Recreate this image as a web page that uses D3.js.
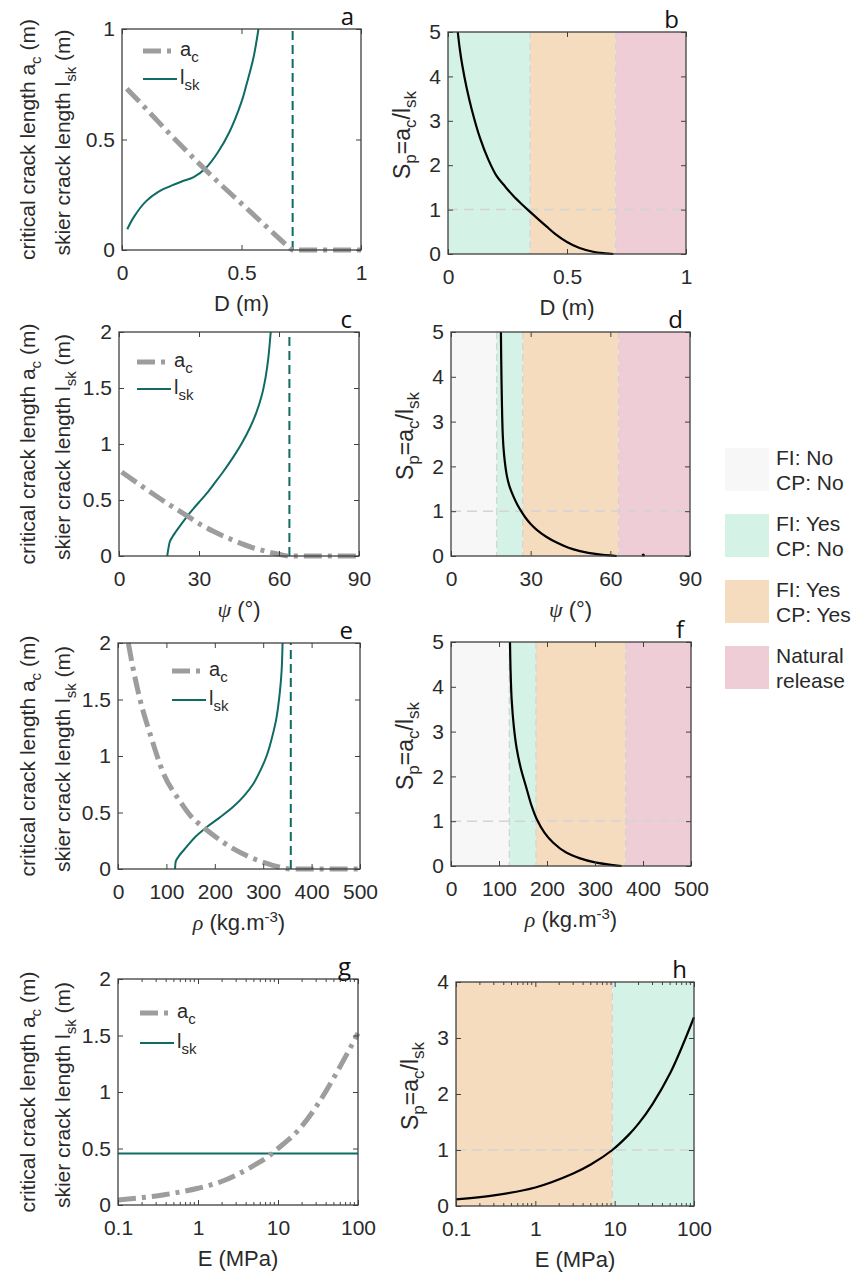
<!DOCTYPE html>
<html><head><meta charset="utf-8">
<script src="https://cdn.jsdelivr.net/npm/d3@7"></script>
<style>body{margin:0;background:#fff} svg{display:block}</style>
</head><body>
<svg id="chart" width="857" height="1273"></svg>
<script>
// ================= DATA =================
// stability regime categories (legend)
const regionLine1 = ["FI: No", "FI: Yes", "FI: Yes", "Natural"];
const regionLine2 = ["CP: No", "CP: No", "CP: Yes", "release"];
const regionColors = ["#f7f7f7", "#d5f2e6", "#f6dcbe", "#eecdd6"];

// panel a : slab thickness D (m)
const a_acD  = [0.02, 0.1, 0.2, 0.3, 0.4, 0.5, 0.6, 0.7, 0.714, 0.8, 0.9, 1.0];
const a_acV  = [0.73, 0.64, 0.525, 0.415, 0.31, 0.21, 0.11, 0.012, 0, 0, 0, 0];
const a_lskD = [0.022, 0.05, 0.1, 0.15, 0.2, 0.25, 0.3, 0.35, 0.4, 0.45, 0.5, 0.52, 0.55, 0.571];
const a_lskV = [0.094, 0.15, 0.22, 0.262, 0.288, 0.31, 0.33, 0.37, 0.44, 0.535, 0.67, 0.745, 0.87, 1.0];
const a_asym = 0.714;
// panel b
const b_D  = [0.041, 0.05, 0.06, 0.078, 0.1, 0.134, 0.17, 0.204, 0.24, 0.274, 0.31, 0.345, 0.38, 0.415, 0.45, 0.5, 0.55, 0.61, 0.66, 0.695];
const b_Sp = [5, 4.6, 4.25, 3.75, 3.25, 2.62, 2.12, 1.76, 1.52, 1.31, 1.12, 0.95, 0.78, 0.615, 0.455, 0.27, 0.14, 0.05, 0.015, 0];
const b_bounds = [0, 0.345, 0.705, 1];
const b_cls = [1, 2, 3];

// panel c : slope angle psi (deg)
const c_acA  = [1, 10, 20, 25.4, 30, 35, 42.9, 50, 55.4, 60, 63.9, 70, 80, 90];
const c_acV  = [0.75, 0.6, 0.44, 0.36, 0.29, 0.225, 0.14, 0.075, 0.04, 0.015, 0, 0, 0, 0];
const c_lskA = [18.1, 18.4, 18.7, 19.1, 20, 22, 25.4, 28, 30, 32.9, 36, 39, 42.9, 46, 49.1, 51.5, 53.5, 55, 56, 56.9];
const c_lskV = [0, 0.05, 0.09, 0.13, 0.17, 0.24, 0.35, 0.425, 0.48, 0.56, 0.655, 0.75, 0.885, 1.005, 1.145, 1.28, 1.43, 1.6, 1.77, 2.0];
const c_asym = 63.9;
// panel d
const d_A  = [18.8, 19.0, 19.5, 20, 21, 22, 23.5, 25, 26.6, 28, 30, 32.3, 36, 39.8, 44, 48.6, 55, 62.4];
const d_Sp = [5, 4.0, 2.69, 2.25, 1.8, 1.56, 1.33, 1.145, 0.985, 0.86, 0.715, 0.585, 0.425, 0.3, 0.19, 0.11, 0.04, 0];
const d_bounds = [0, 17.2, 27, 63.1, 90];
const d_cls = [0, 1, 2, 3];
const d_dotA = [72.4];

// panel e : slab density rho (kg m-3)
const e_acR  = [21.3, 30, 45.5, 66, 93.6, 128, 150, 176, 200, 238, 270, 307, 330, 345, 357, 400, 450, 500];
const e_acV  = [2.0, 1.8, 1.5, 1.2, 0.85, 0.6, 0.47, 0.37, 0.29, 0.18, 0.11, 0.05, 0.02, 0.005, 0, 0, 0, 0];
const e_lskR = [117.8, 118.5, 119.5, 125, 141.6, 160, 183, 210, 238, 260, 279, 295, 307, 318, 327.5, 334, 338, 340];
const e_lskV = [0, 0.04, 0.07, 0.11, 0.195, 0.285, 0.37, 0.455, 0.55, 0.645, 0.75, 0.88, 1.0, 1.16, 1.34, 1.55, 1.75, 2.0];
const e_asym = 357;
// panel f
const f_R  = [122.9, 124, 126.4, 131, 136.9, 145, 157.7, 168, 178.5, 195, 213, 240, 269, 300, 338, 355.6];
const f_Sp = [5, 4.4, 3.71, 3.1, 2.62, 2.2, 1.72, 1.34, 1.05, 0.74, 0.52, 0.3, 0.17, 0.08, 0.02, 0];
const f_bounds = [0, 121.5, 177, 364, 500];
const f_cls = [0, 1, 2, 3];

// panel g : elastic modulus E (MPa)
const g_E    = [0.1, 0.2, 0.3, 0.5, 1, 2, 3, 5, 7.9, 10, 20, 30, 54, 100];
const g_acV  = [0.044, 0.065, 0.08, 0.105, 0.148, 0.21, 0.265, 0.35, 0.44, 0.5, 0.7, 0.87, 1.17, 1.52];
const g_lskE = [0.1, 100];
const g_lskV = [0.455, 0.455];
// panel h
const h_E  = [0.1, 0.3, 1, 3, 5, 9.35, 15, 20, 30, 50, 70, 100];
const h_Sp = [0.12, 0.19, 0.33, 0.58, 0.74, 1.0, 1.27, 1.47, 1.82, 2.37, 2.83, 3.37];
const h_bounds = [0.1, 9.35, 100];
const h_cls = [2, 1];

// tick values
const ticksD = [0, 0.5, 1];
const ticksPsi = [0, 30, 60, 90];
const ticksRho = [0, 100, 200, 300, 400, 500];
const ticksE = [0.1, 1, 10, 100];
const ticksL1 = [0, 0.5, 1];
const ticksL2 = [0, 0.5, 1, 1.5, 2];
const ticksS5 = [0, 1, 2, 3, 4, 5];
const ticksS4 = [0, 1, 2, 3, 4];

// ================= DRAWING =================
const svg = d3.select("#chart");
const FONT = "'Liberation Sans', Arial, Helvetica, sans-serif";
const SERIF = "'Liberation Serif', 'DejaVu Serif', serif";
const AXC = "#404040";
const TXT = "#2a2a2a";
const GRAY = "#9d9d9d";
const TEAL = "#0f6b63";
const DASHDOT = "18,6,4,6";
const fmt = d => String(d);

const zip = (xs, ys) => xs.map((v, i) => [v, ys[i]]);
let clipId = 0;

function axes(g, x, y, box, xt, yt, isLog) {
  const bx = g.append("g").attr("transform", `translate(0,${box.B})`)
    .call(d3.axisBottom(x).tickValues(xt).tickFormat(fmt).tickSizeInner(-5).tickSizeOuter(0).tickPadding(15));
  const tx = g.append("g").attr("transform", `translate(0,${box.T})`)
    .call(d3.axisTop(x).tickValues(xt).tickFormat("").tickSizeInner(-5).tickSizeOuter(0));
  const ly = g.append("g").attr("transform", `translate(${box.L},0)`)
    .call(d3.axisLeft(y).tickValues(yt).tickFormat(fmt).tickSizeInner(-5).tickSizeOuter(0).tickPadding(7));
  const ry = g.append("g").attr("transform", `translate(${box.R},0)`)
    .call(d3.axisRight(y).tickValues(yt).tickFormat("").tickSizeInner(-5).tickSizeOuter(0));
  [bx, tx, ly, ry].forEach(a => {
    a.select(".domain").remove();
    a.selectAll("line").attr("stroke", AXC).attr("stroke-width", 1);
    a.selectAll("text").style("font-family", FONT).style("font-size", "21px").attr("fill", TXT);
  });
  if (isLog) {
    const minors = [];
    [0.1, 1, 10].forEach(dec => { for (let m = 2; m <= 9; m++) minors.push(dec * m); });
    g.append("g").selectAll("line").data(minors).join("line")
      .attr("x1", d => x(d)).attr("x2", d => x(d)).attr("y1", box.B).attr("y2", box.B - 3)
      .attr("stroke", AXC).attr("stroke-width", 1);
    g.append("g").selectAll("line").data(minors).join("line")
      .attr("x1", d => x(d)).attr("x2", d => x(d)).attr("y1", box.T).attr("y2", box.T + 3)
      .attr("stroke", AXC).attr("stroke-width", 1);
  }
  g.append("rect").attr("x", box.L).attr("y", box.T).attr("width", box.R - box.L).attr("height", box.B - box.T)
    .attr("fill", "none").attr("stroke", AXC).attr("stroke-width", 1.3);
}

function clip(g, box, pad) {
  const id = "clip" + (clipId++);
  g.append("clipPath").attr("id", id).append("rect")
    .attr("x", box.L - pad).attr("y", box.T - pad).attr("width", box.R - box.L + 2 * pad).attr("height", box.B - box.T + 2 * pad);
  return `url(#${id})`;
}

function xLabel(g, cx, y, kind) {
  const t = g.append("text").attr("x", cx).attr("y", y).attr("text-anchor", "middle")
    .style("font-family", FONT).style("font-size", "22px").attr("fill", TXT);
  if (kind === "D") t.text("D (m)");
  else if (kind === "E") t.text("E (MPa)");
  else if (kind === "psi") {
    t.append("tspan").style("font-family", SERIF).style("font-style", "italic").text("ψ");
    t.append("tspan").text(" (°)");
  } else if (kind === "rho") {
    t.append("tspan").style("font-family", SERIF).style("font-style", "italic").text("ρ");
    t.append("tspan").text(" (kg.m");
    t.append("tspan").attr("dy", -8).style("font-size", "15px").text("-3");
    t.append("tspan").attr("dy", 8).text(")");
  }
}

function letter(g, box, ch) {
  g.append("text").attr("x", box.R - 7).attr("y", box.T - 4).attr("text-anchor", "end")
    .style("font-family", "'Open Sans', sans-serif").style("font-size", "24px").attr("fill", "#111").text(ch);
}

function leftYLabel(g, cy) {
  const t1 = g.append("text").attr("transform", `translate(35,${cy}) rotate(-90)`).attr("text-anchor", "middle")
    .style("font-family", FONT).style("font-size", "21px").attr("fill", TXT);
  t1.append("tspan").text("critical crack length a");
  t1.append("tspan").attr("dy", 6).style("font-size", "15px").text("c");
  t1.append("tspan").attr("dy", -6).text(" (m)");
  const t2 = g.append("text").attr("transform", `translate(70,${cy + 3}) rotate(-90)`).attr("text-anchor", "middle")
    .style("font-family", FONT).style("font-size", "21px").attr("fill", TXT);
  t2.append("tspan").text("skier crack length l");
  t2.append("tspan").attr("dy", 6).style("font-size", "15px").text("sk");
  t2.append("tspan").attr("dy", -6).text(" (m)");
}

function rightYLabel(g, x, cy) {
  const t = g.append("text").attr("transform", `translate(${x},${cy}) rotate(-90)`).attr("text-anchor", "middle")
    .style("font-family", FONT).style("font-size", "23px").attr("fill", TXT);
  t.append("tspan").text("S");
  t.append("tspan").attr("dy", 6).style("font-size", "17px").text("p");
  t.append("tspan").attr("dy", -6).text("=a");
  t.append("tspan").attr("dy", 6).style("font-size", "17px").text("c");
  t.append("tspan").attr("dy", -6).text("/l");
  t.append("tspan").attr("dy", 6).style("font-size", "17px").text("sk");
}

function leftPanel(p) {
  const g = svg.append("g");
  const box = p.box;
  const x = (p.log ? d3.scaleLog() : d3.scaleLinear()).domain(p.xDom).range([box.L, box.R]);
  const y = d3.scaleLinear().domain(p.yDom).range([box.B, box.T]);
  const cp = clip(g, box, 4);
  const lineAc = d3.line().x(d => x(d[0])).y(d => y(d[1])).curve(d3.curveMonotoneX);
  const lineL = d3.line().x(d => x(d[0])).y(d => y(d[1])).curve(d3.curveCatmullRom.alpha(0.5));
  if (p.asym !== undefined) {
    g.append("line").attr("x1", x(p.asym)).attr("x2", x(p.asym)).attr("y1", y(p.yDom[0])).attr("y2", y(p.yDom[1]))
      .attr("stroke", TEAL).attr("stroke-width", 2).attr("stroke-dasharray", "9,5");
  }
  g.append("path").attr("d", lineL(zip(p.lsX, p.lsY))).attr("fill", "none")
    .attr("stroke", TEAL).attr("stroke-width", 2).attr("clip-path", cp);
  g.append("path").attr("d", lineAc(zip(p.acX, p.acY))).attr("fill", "none")
    .attr("stroke", GRAY).attr("stroke-width", 5).attr("stroke-dasharray", DASHDOT).attr("clip-path", cp);
  axes(g, x, y, box, p.xt, p.yt, p.log);
  // legend
  const lg = p.leg;
  g.append("line").attr("x1", lg.x).attr("x2", lg.x + 34).attr("y1", lg.y).attr("y2", lg.y)
    .attr("stroke", GRAY).attr("stroke-width", 5).attr("stroke-dasharray", DASHDOT);
  g.append("line").attr("x1", lg.x).attr("x2", lg.x + 34).attr("y1", lg.y + lg.dy).attr("y2", lg.y + lg.dy)
    .attr("stroke", TEAL).attr("stroke-width", 2);
  const t1 = g.append("text").attr("x", lg.x + 37).attr("y", lg.y + 5)
    .style("font-family", FONT).style("font-size", "20px").attr("fill", TXT);
  t1.append("tspan").text("a"); t1.append("tspan").attr("dy", 6).style("font-size", "15px").text("c");
  const t2 = g.append("text").attr("x", lg.x + 37).attr("y", lg.y + lg.dy + 5)
    .style("font-family", FONT).style("font-size", "20px").attr("fill", TXT);
  t2.append("tspan").text("l"); t2.append("tspan").attr("dy", 6).style("font-size", "15px").text("sk");
  leftYLabel(g, (box.T + box.B) / 2);
  xLabel(g, (box.L + box.R) / 2, box.B + 61, p.xl);
  letter(g, box, p.letter);
}

function rightPanel(p) {
  const g = svg.append("g");
  const box = p.box;
  const x = (p.log ? d3.scaleLog() : d3.scaleLinear()).domain(p.xDom).range([box.L, box.R]);
  const y = d3.scaleLinear().domain(p.yDom).range([box.B, box.T]);
  const cp = clip(g, box, 1);
  const segs = p.cls.map((c, i) => ({ x0: p.bounds[i], x1: p.bounds[i + 1], c }));
  g.selectAll("rect.reg").data(segs).join("rect")
    .attr("x", d => x(d.x0)).attr("y", box.T).attr("width", d => x(d.x1) - x(d.x0)).attr("height", box.B - box.T)
    .attr("fill", d => regionColors[d.c]);
  g.selectAll("line.bnd").data(p.bounds.slice(1, -1)).join("line")
    .attr("x1", d => x(d)).attr("x2", d => x(d)).attr("y1", box.T).attr("y2", box.B)
    .attr("stroke", "#d2d2d2").attr("stroke-width", 1.2).attr("stroke-dasharray", "7,4");
  g.append("line").attr("x1", box.L).attr("x2", box.R).attr("y1", y(1)).attr("y2", y(1))
    .attr("stroke", "#d4d4d4").attr("stroke-width", 1.5).attr("stroke-dasharray", "10,6");
  const line = d3.line().x(d => x(d[0])).y(d => y(d[1])).curve(d3.curveCatmullRom.alpha(0.5));
  g.append("path").attr("d", line(zip(p.sx, p.sy))).attr("fill", "none")
    .attr("stroke", "#000").attr("stroke-width", 2.2).attr("clip-path", cp);
  if (p.dots) {
    g.selectAll("circle.dot").data(p.dots).join("circle")
      .attr("cx", d => x(d)).attr("cy", y(0) - 1).attr("r", 1.6).attr("fill", "#000");
  }
  axes(g, x, y, box, p.xt, p.yt, p.log);
  rightYLabel(g, box.L - 38, (box.T + box.B) / 2 - 8);
  xLabel(g, (box.L + box.R) / 2, box.B + 61, p.xl);
  letter(g, box, p.letter);
}

leftPanel({ box: { L: 122, R: 361, T: 29, B: 250 }, xDom: [0, 1], yDom: [0, 1], xt: ticksD, yt: ticksL1,
  acX: a_acD, acY: a_acV, lsX: a_lskD, lsY: a_lskV, asym: a_asym, leg: { x: 143, y: 51, dy: 28 }, xl: "D", letter: "a" });
rightPanel({ box: { L: 448, R: 686, T: 32, B: 254 }, xDom: [0, 1], yDom: [0, 5], xt: ticksD, yt: ticksS5,
  sx: b_D, sy: b_Sp, bounds: b_bounds, cls: b_cls, xl: "D", letter: "b" });

leftPanel({ box: { L: 119, R: 359, T: 332, B: 556 }, xDom: [0, 90], yDom: [0, 2], xt: ticksPsi, yt: ticksL2,
  acX: c_acA, acY: c_acV, lsX: c_lskA, lsY: c_lskV, asym: c_asym, leg: { x: 137, y: 362, dy: 27 }, xl: "psi", letter: "c" });
rightPanel({ box: { L: 451, R: 690, T: 332, B: 556 }, xDom: [0, 90], yDom: [0, 5], xt: ticksPsi, yt: ticksS5,
  sx: d_A, sy: d_Sp, bounds: d_bounds, cls: d_cls, dots: d_dotA, xl: "psi", letter: "d" });

leftPanel({ box: { L: 118, R: 360, T: 643, B: 869 }, xDom: [0, 500], yDom: [0, 2], xt: ticksRho, yt: ticksL2,
  acX: e_acR, acY: e_acV, lsX: e_lskR, lsY: e_lskV, asym: e_asym, leg: { x: 172, y: 671, dy: 29 }, xl: "rho", letter: "e" });
rightPanel({ box: { L: 451, R: 691, T: 642, B: 866 }, xDom: [0, 500], yDom: [0, 5], xt: ticksRho, yt: ticksS5,
  sx: f_R, sy: f_Sp, bounds: f_bounds, cls: f_cls, xl: "rho", letter: "f" });

leftPanel({ box: { L: 118, R: 358, T: 979, B: 1205 }, xDom: [0.1, 100], yDom: [0, 2], xt: ticksE, yt: ticksL2, log: true,
  acX: g_E, acY: g_acV, lsX: g_lskE, lsY: g_lskV, leg: { x: 140, y: 1013, dy: 30 }, xl: "E", letter: "g" });
rightPanel({ box: { L: 456, R: 694, T: 982, B: 1206 }, xDom: [0.1, 100], yDom: [0, 4], xt: ticksE, yt: ticksS4, log: true,
  sx: h_E, sy: h_Sp, bounds: h_bounds, cls: h_cls, xl: "E", letter: "h" });

// right legend
const legY = [448, 514, 580, 646];
const legG = svg.append("g");
regionColors.forEach((c, i) => {
  legG.append("rect").attr("x", 725).attr("y", legY[i]).attr("width", 44).attr("height", 43).attr("fill", c);
  legG.append("text").attr("x", 776).attr("y", legY[i] + 17).style("font-family", FONT).style("font-size", "21px")
    .attr("fill", TXT).text(regionLine1[i]);
  legG.append("text").attr("x", 776).attr("y", legY[i] + 42).style("font-family", FONT).style("font-size", "21px")
    .attr("fill", TXT).text(regionLine2[i]);
});
</script>
</body></html>
